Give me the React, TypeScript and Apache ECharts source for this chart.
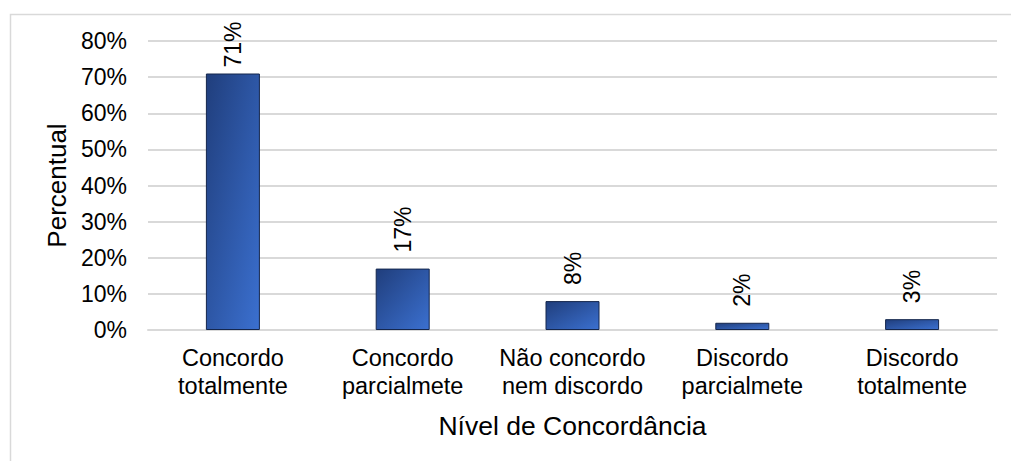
import React, { useEffect, useRef } from "react";
import * as echarts from "echarts";

// Survey responses by agreement level (percent of respondents)
const categories = [
  "Concordo\ntotalmente",
  "Concordo\nparcialmete",
  "Não concordo\nnem discordo",
  "Discordo\nparcialmete",
  "Discordo\ntotalmente",
];
const percentages = [71, 17, 8, 2, 3];
const yTicks = { min: 0, max: 80, interval: 10 };

const FONT = "'Liberation Sans', Arial, sans-serif";

export default function App() {
  const ref = useRef<HTMLDivElement>(null);

  useEffect(() => {
    if (!ref.current) return;
    const chart = echarts.init(ref.current, undefined, { renderer: "svg" });

    // Tall bars get their label pulled closer so it stays inside the chart frame
    const barData = percentages.map((v) =>
      v > 60 ? { value: v, label: { distance: 6 } } : v
    );

    chart.setOption({
      animation: false,
      backgroundColor: "#ffffff",
      textStyle: { fontFamily: FONT },
      graphic: [
        {
          type: "rect",
          left: 8,
          top: 12,
          shape: { width: 1100, height: 500 },
          style: { fill: "none", stroke: "#d9d9d9", lineWidth: 1.5 },
          silent: true,
          z: -1,
        },
      ],
      grid: { left: 148, right: 14, top: 41, bottom: 131 },
      xAxis: {
        type: "category",
        data: categories,
        name: "Nível de Concordância",
        nameLocation: "middle",
        nameGap: 82,
        nameTextStyle: { fontSize: 26.5, color: "#000", fontFamily: FONT },
        axisLine: { show: true, lineStyle: { color: "#d9d9d9", width: 2 } },
        axisTick: { show: false },
        axisLabel: {
          fontSize: 23.5,
          lineHeight: 28,
          color: "#000",
          margin: 14,
          interval: 0,
          fontFamily: FONT,
        },
      },
      yAxis: {
        type: "value",
        min: yTicks.min,
        max: yTicks.max,
        interval: yTicks.interval,
        name: "Percentual",
        nameLocation: "middle",
        nameGap: 78,
        nameTextStyle: { fontSize: 26, color: "#000", fontFamily: FONT },
        axisLine: { show: false },
        axisTick: { show: false },
        axisLabel: {
          formatter: "{value}%",
          fontSize: 23,
          color: "#000",
          margin: 21,
          fontFamily: FONT,
        },
        splitLine: { lineStyle: { color: "#d9d9d9", width: 2 } },
      },
      series: [
        {
          type: "bar",
          data: barData,
          barWidth: 54,
          itemStyle: {
            color: new echarts.graphic.LinearGradient(0, 0, 1, 1, [
              { offset: 0, color: "#203e7c" },
              { offset: 1, color: "#3b70d0" },
            ]),
            borderColor: "#14264c",
            borderWidth: 1,
          },
          label: {
            show: true,
            position: "top",
            rotate: 90,
            align: "left",
            verticalAlign: "middle",
            distance: 16,
            formatter: "{c}%",
            fontSize: 23,
            color: "#000",
            fontFamily: FONT,
          },
        },
      ],
    });
    return () => chart.dispose();
  }, []);

  return (
    <div
      ref={ref}
      style={{ position: "fixed", left: 0, top: 0, width: 1011, height: 461 }}
    />
  );
}
